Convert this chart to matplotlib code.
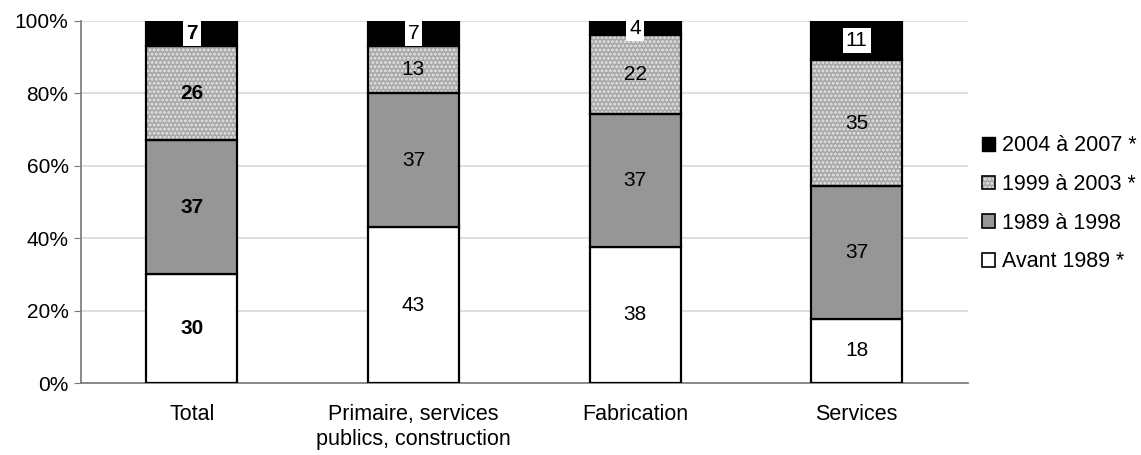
import numpy as np
import matplotlib
matplotlib.use('Agg')
import matplotlib.pyplot as plt
from matplotlib.patches import Patch
from matplotlib.legend_handler import HandlerTuple

plt.rcParams['font.family'] = ['Liberation Sans', 'DejaVu Sans']
plt.rcParams['hatch.linewidth'] = 1.4

categories = ['Total', 'Primaire, services\npublics, construction', 'Fabrication', 'Services']
series_names = ['Avant 1989 *', '1989 à 1998', '1999 à 2003 *', '2004 à 2007 *']
avant_1989 = [30, 43, 38, 18]
p1989_1998 = [37, 37, 37, 37]
p1999_2003 = [26, 13, 22, 35]
p2004_2007 = [7, 7, 4, 11]

values = np.array([avant_1989, p1989_1998, p1999_2003, p2004_2007], dtype=float)
shares = values / values.sum(axis=0) * 100  # 100% stacked

FS = 15

fig = plt.figure(figsize=(11.41, 4.55), dpi=100)
ax = fig.add_axes([0.071, 0.158, 0.777, 0.796])

x = np.arange(len(categories))
w = 0.41
bottom = np.zeros(len(categories))
for i in range(4):
    h = shares[i]
    if i == 2:
        # dotted fill: light dots on gray, then a black outline on top
        ax.bar(x, h, w, bottom=bottom, color='#a8a8a8', edgecolor='#e6e6e6',
               hatch='....', linewidth=0, zorder=2)
        ax.bar(x, h, w, bottom=bottom, fill=False, edgecolor='black',
               linewidth=1.6, zorder=3)
    else:
        face = ['white', '#969696', None, 'black'][i]
        ax.bar(x, h, w, bottom=bottom, color=face, edgecolor='black',
               linewidth=1.6, zorder=3)
    for j in range(len(categories)):
        txt = f'{int(values[i, j])}'
        weight = 'bold' if j == 0 else 'normal'
        y = bottom[j] + h[j] / 2
        if i == 3:
            ax.text(x[j], y, txt, ha='center', va='center', fontsize=FS,
                    fontweight=weight, zorder=5,
                    bbox=dict(facecolor='white', edgecolor='none',
                              boxstyle='square,pad=0.15'))
        else:
            ax.text(x[j], y, txt, ha='center', va='center', fontsize=FS,
                    fontweight=weight, zorder=5)
    bottom += h

ax.set_xlim(-0.5, len(categories) - 0.5)
ax.set_ylim(0, 100)
ax.set_yticks(np.arange(0, 101, 20))
ax.set_yticklabels([f'{v}%' for v in range(0, 101, 20)], fontsize=FS)
ax.set_xticks(x)
ax.set_xticklabels(categories, fontsize=15.5, linespacing=1.25)
ax.tick_params(axis='x', length=0, pad=15)
ax.tick_params(axis='y', length=5, color='#777777', direction='out', pad=4)
ax.grid(axis='y', color='#d9d9d9', linewidth=1.2, zorder=0)
ax.set_axisbelow(True)
for s in ['top', 'right']:
    ax.spines[s].set_visible(False)
for s in ['left', 'bottom']:
    ax.spines[s].set_color('#777777')
    ax.spines[s].set_linewidth(1.2)

outline = Patch(fill=False, edgecolor='black', linewidth=1.2)
handles = [
    Patch(facecolor='black', edgecolor='black'),
    (Patch(facecolor='#a8a8a8', edgecolor='#e6e6e6', hatch='....', linewidth=0), outline),
    Patch(facecolor='#969696', edgecolor='black', linewidth=1.2),
    Patch(facecolor='white', edgecolor='black', linewidth=1.2),
]
leg = fig.legend(handles, series_names[::-1], loc='center left',
                 bbox_to_anchor=(0.8436, 0.552), frameon=False, fontsize=15.5,
                 handlelength=0.6, handleheight=0.6, handletextpad=0.35,
                 labelspacing=0.82,
                 handler_map={tuple: HandlerTuple(ndivide=1, pad=0)})

fig.savefig('out.png', dpi=100)
